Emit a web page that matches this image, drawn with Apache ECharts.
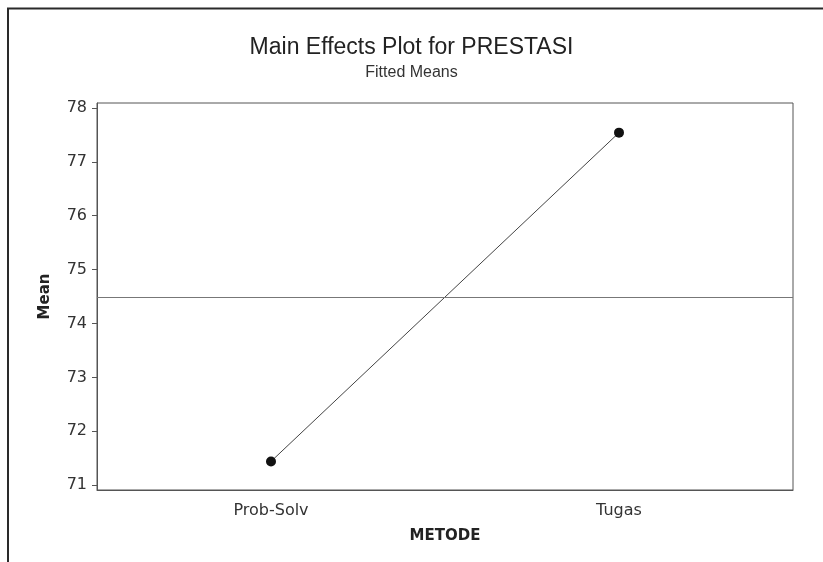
<!DOCTYPE html>
<html>
<head>
<meta charset="utf-8">
<script src="https://cdn.jsdelivr.net/npm/echarts@6/dist/echarts.min.js"></script>
<style>
  html, body { margin: 0; padding: 0; background: #fff; }
  #main { width: 823px; height: 562px; }
</style>
</head>
<body>
<div id="main"></div>
<script>
// data
var categories = ['Prob-Solv', 'Tugas'];
var means = [71.44, 77.54];
var grandMean = 74.48;

var chart = echarts.init(document.getElementById('main'));
var titleFont = 'Liberation Sans';
var font = 'DejaVu Sans';

var option = {
    backgroundColor: '#ffffff',
    animation: false,
    title: {
        text: 'Main Effects Plot for PRESTASI',
        subtext: 'Fitted Means',
        left: 'center',
        top: 36,
        itemGap: 6,
        padding: [0, 0, 0, 14],
        textStyle: { fontFamily: titleFont, fontSize: 23, fontWeight: 'normal', color: '#222' },
        subtextStyle: { fontFamily: titleFont, fontSize: 16, color: '#333' }
    },
    graphic: [{
        type: 'polyline',
        shape: { points: [[8, 600], [8, 8.5], [830, 8.5]] },
        style: { stroke: '#2a2a2a', lineWidth: 2, fill: null }
    }],
    grid: {
        left: 97, right: 30, top: 103, bottom: 72,
        show: true, borderColor: '#555', borderWidth: 1
    },
    xAxis: {
        type: 'category',
        data: categories,
        boundaryGap: true,
        name: 'METODE',
        nameLocation: 'center',
        nameGap: 39,
        nameTextStyle: { fontFamily: font, fontSize: 15, fontWeight: 'bold', color: '#222' },
        axisLine: { lineStyle: { color: '#555' } },
        axisTick: { alignWithLabel: true, length: 5, lineStyle: { color: '#555' } },
        axisLabel: { fontFamily: font, fontSize: 16, color: '#333', margin: 13 },
        splitLine: { show: false }
    },
    yAxis: {
        type: 'value',
        min: 70.91,
        max: 78.09,
        minInterval: 1,
        maxInterval: 1,
        name: 'Mean',
        nameLocation: 'center',
        nameGap: 44,
        nameTextStyle: { fontFamily: font, fontSize: 15, fontWeight: 'bold', color: '#222' },
        axisLine: { show: true, lineStyle: { color: '#555' } },
        axisTick: { show: true, length: 5, lineStyle: { color: '#555' } },
        axisLabel: {
            fontFamily: font, fontSize: 16, color: '#333', margin: 10,
            showMinLabel: false, showMaxLabel: false,
            formatter: function (v) {
                var r = Math.round(v);
                return Math.abs(v - r) < 1e-6 ? String(r) : '';
            }
        },
        splitLine: { show: false }
    },
    series: [{
        type: 'line',
        data: means,
        symbol: 'circle',
        symbolSize: 10,
        itemStyle: { color: '#111' },
        lineStyle: { color: '#444', width: 1 },
        markLine: {
            silent: true,
            symbol: 'none',
            label: { show: false },
            lineStyle: { color: '#777', type: 'solid', width: 1 },
            data: [{ yAxis: grandMean }]
        }
    }]
};
chart.setOption(option);
</script>
</body>
</html>
